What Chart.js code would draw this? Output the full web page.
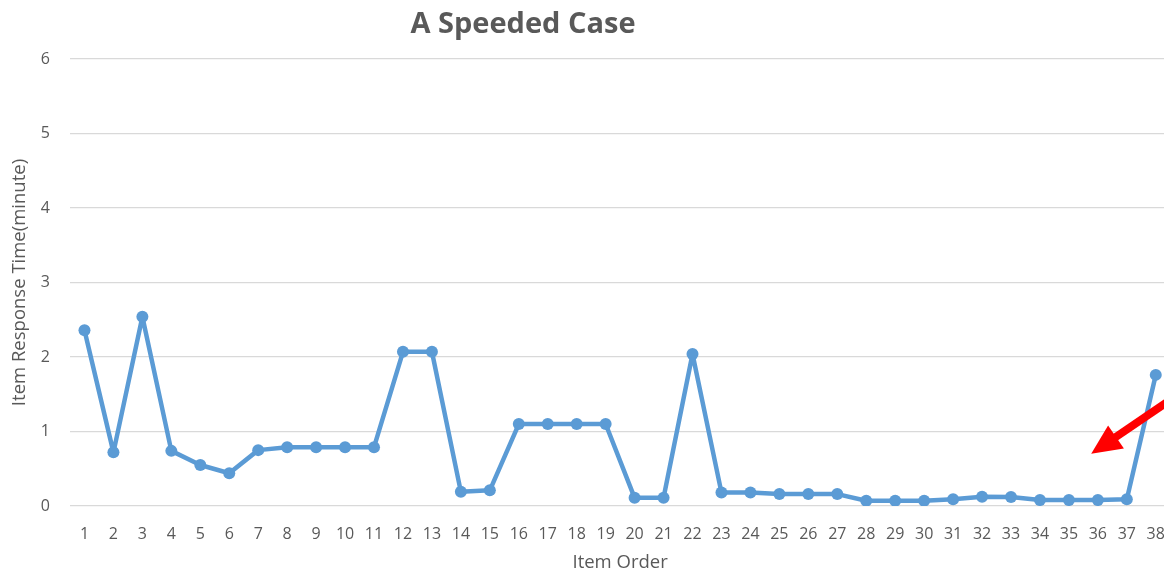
<!DOCTYPE html>
<html>
<head>
<meta charset="utf-8">
<script src="https://cdn.jsdelivr.net/npm/chart.js@4.4.1/dist/chart.umd.min.js"></script>
<style>
  html, body { margin: 0; padding: 0; background: #fff; overflow: hidden; }
  #wrap { position: relative; width: 1184px; height: 574px; }
</style>
</head>
<body>
<div id="wrap"><canvas id="speedChart"></canvas></div>
<script>
// Item order 1..38
const itemOrder = ['1','2','3','4','5','6','7','8','9','10','11','12','13','14','15','16','17','18','19',
    '20','21','22','23','24','25','26','27','28','29','30','31','32','33','34','35','36','37','38'];

// Response time per item (minutes)
const responseTime = [2.36, 0.72, 2.54, 0.74, 0.55, 0.44, 0.75, 0.79, 0.79, 0.79, 0.79, 2.07, 2.07,
    0.19, 0.21, 1.10, 1.10, 1.10, 1.10, 0.11, 0.11, 2.04, 0.18, 0.18, 0.16, 0.16, 0.16,
    0.07, 0.07, 0.07, 0.09, 0.125, 0.12, 0.08, 0.08, 0.08, 0.09, 1.76];

const yTicks = [0, 1, 2, 3, 4, 5, 6];

const textColor = '#595959';
const fontFamily = '"Open Sans", sans-serif';

// Title drawn over the left part of the chart, like the original
const titlePlugin = {
    id: 'titleText',
    afterDraw(chart) {
        const c = chart.ctx;
        c.save();
        c.font = 'bold 29px ' + fontFamily;
        c.fillStyle = textColor;
        c.textAlign = 'center';
        c.textBaseline = 'middle';
        c.fillText('A Speeded Case', 523, 25);
        c.restore();
    }
};

// Red arrow pointing at the run of fast answers
const arrowPlugin = {
    id: 'redArrow',
    afterDatasetsDraw(chart) {
        const x = chart.scales.x, y = chart.scales.y;
        const tipX = x.getPixelForValue(34.77), tipY = y.getPixelForValue(0.70);
        const tailX = x.getPixelForValue(37.9), tailY = y.getPixelForValue(1.53);
        const ang = Math.atan2(tailY - tipY, tailX - tipX);
        const headLen = 30, headW = 14;
        const bx = tipX + Math.cos(ang) * headLen, by = tipY + Math.sin(ang) * headLen;
        const c = chart.ctx;
        c.save();
        c.strokeStyle = '#FF0000';
        c.fillStyle = '#FF0000';
        c.lineWidth = 8;
        c.beginPath();
        c.moveTo(bx - Math.cos(ang) * 2, by - Math.sin(ang) * 2);
        c.lineTo(tailX, tailY);
        c.stroke();
        c.beginPath();
        c.moveTo(tipX, tipY);
        c.lineTo(bx + Math.sin(ang) * headW, by - Math.cos(ang) * headW);
        c.lineTo(bx - Math.sin(ang) * headW, by + Math.cos(ang) * headW);
        c.closePath();
        c.fill();
        c.restore();
    }
};

new Chart(document.getElementById('speedChart'), {
    type: 'line',
    data: {
        labels: itemOrder,
        datasets: [{
            label: 'Item Response Time',
            data: responseTime,
            borderColor: '#5B9BD5',
            backgroundColor: '#5B9BD5',
            borderWidth: 4.5,
            borderJoinStyle: 'round',
            borderCapStyle: 'round',
            pointRadius: 6,
            pointHoverRadius: 6,
            pointBorderWidth: 0,
            tension: 0
        }]
    },
    options: {
        responsive: true,
        maintainAspectRatio: false,
        animation: false,
        layout: { padding: { top: 59, right: 0, left: 0, bottom: 0 } },
        plugins: {
            legend: { display: false },
            tooltip: { enabled: false }
        },
        scales: {
            x: {
                offset: true,
                afterFit(axis) { axis.height = 68; },
                grid: { display: false, drawTicks: false },
                border: { display: false },
                ticks: {
                    color: textColor,
                    font: { family: fontFamily, size: 16 },
                    maxRotation: 0,
                    autoSkip: false,
                    padding: 19
                },
                title: {
                    display: true,
                    text: 'Item Order',
                    color: textColor,
                    font: { family: fontFamily, size: 18.5 },
                    padding: { top: 10, bottom: 0 }
                }
            },
            y: {
                min: 0,
                max: 6,
                afterBuildTicks(axis) { axis.ticks = yTicks.map(v => ({ value: v })); },
                afterFit(axis) { axis.width = 70; },
                grid: { color: '#D9D9D9', lineWidth: 1.3, drawTicks: false },
                border: { display: false },
                ticks: {
                    color: textColor,
                    font: { family: fontFamily, size: 16 },
                    padding: 20
                },
                title: {
                    display: true,
                    text: 'Item Response Time(minute)',
                    color: textColor,
                    font: { family: fontFamily, size: 18.5 },
                    padding: { top: 9, bottom: 9 }
                }
            }
        }
    },
    plugins: [titlePlugin, arrowPlugin]
});
</script>
</body>
</html>
